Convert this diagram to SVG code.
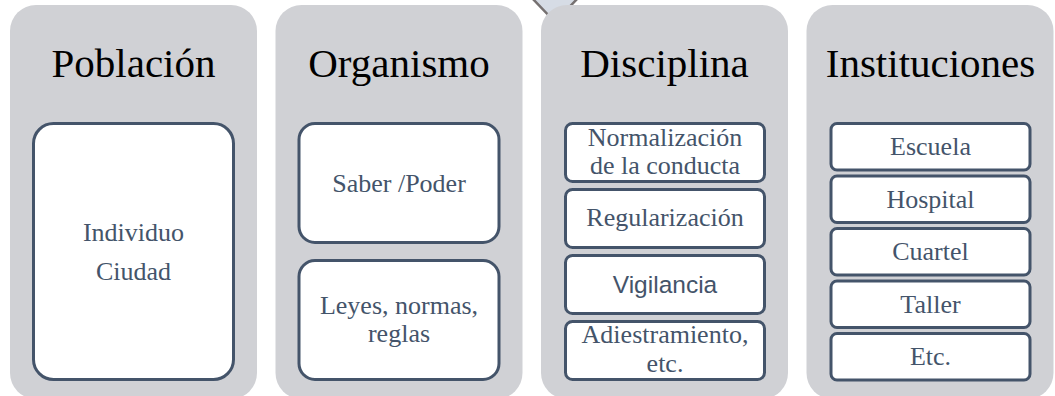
<svg xmlns="http://www.w3.org/2000/svg" width="1055" height="396" viewBox="0 0 1055 396">
<style>
.panel{fill:#d0d1d5;}
.box{fill:#ffffff;stroke:#44546a;stroke-width:3;}
.title{font-family:'Liberation Serif','Times New Roman','DejaVu Serif',serif;font-size:41px;fill:#000;text-anchor:middle;}
.t{font-family:'Liberation Serif','Times New Roman','DejaVu Serif',serif;font-size:26px;fill:#44546a;text-anchor:middle;}
.s{font-family:'Liberation Sans',Arial,sans-serif;font-size:24.5px;fill:#44546a;text-anchor:middle;}
</style>
<rect width="1055" height="396" fill="#ffffff"/>
<g id="arrow">
<polygon points="531,-3 555,22 579,-3" fill="#d6dce5" stroke="#767171" stroke-width="2.5"/>
</g>
<g id="poblacion">
<rect class="panel" x="10" y="5" width="247" height="394" rx="26"/>
<text class="title" x="133.5" y="77">Población</text>
<rect class="box" x="33.5" y="123.5" width="200" height="256" rx="20"/>
<text class="t" x="133.5" y="241">Individuo</text>
<text class="t" x="133.5" y="280">Ciudad</text>
</g>
<g id="organismo">
<rect class="panel" x="275.5" y="5" width="247" height="394" rx="26"/>
<text class="title" x="399" y="77">Organismo</text>
<rect class="box" x="299" y="123.5" width="200" height="119" rx="16"/>
<text class="t" x="399" y="192">Saber /Poder</text>
<rect class="box" x="299" y="260.5" width="200" height="119" rx="16"/>
<text class="t" x="399" y="314">Leyes, normas,</text>
<text class="t" x="399" y="342">reglas</text>
</g>
<g id="disciplina">
<rect class="panel" x="541" y="5" width="247" height="394" rx="26"/>
<text class="title" x="664.5" y="77">Disciplina</text>
<rect class="box" x="565.5" y="123.5" width="199" height="58" rx="7"/>
<text class="t" x="665" y="146">Normalización</text>
<text class="t" x="665" y="174">de la conducta</text>
<rect class="box" x="565.5" y="189.5" width="199" height="58" rx="7"/>
<text class="t" x="665" y="226">Regularización</text>
<rect class="box" x="565.5" y="255.5" width="199" height="58" rx="7"/>
<text class="s" x="665" y="293">Vigilancia</text>
<rect class="box" x="565.5" y="321.5" width="199" height="58" rx="7"/>
<text class="t" x="665" y="343">Adiestramiento,</text>
<text class="t" x="665" y="372">etc.</text>
</g>
<g id="instituciones">
<rect class="panel" x="806.5" y="5" width="247" height="394" rx="26"/>
<text class="title" x="930.5" y="77">Instituciones</text>
<rect class="box" x="831" y="123.5" width="199" height="46.5" rx="6"/>
<text class="t" x="930.5" y="155">Escuela</text>
<rect class="box" x="831" y="176" width="199" height="46.5" rx="6"/>
<text class="t" x="930.5" y="207.5">Hospital</text>
<rect class="box" x="831" y="228.5" width="199" height="46.5" rx="6"/>
<text class="t" x="930.5" y="260">Cuartel</text>
<rect class="box" x="831" y="281" width="199" height="46.5" rx="6"/>
<text class="t" x="930.5" y="312.5">Taller</text>
<rect class="box" x="831" y="333.5" width="199" height="46.5" rx="6"/>
<text class="t" x="930.5" y="365">Etc.</text>
</g>
<g id="connectors"></g>
</svg>
